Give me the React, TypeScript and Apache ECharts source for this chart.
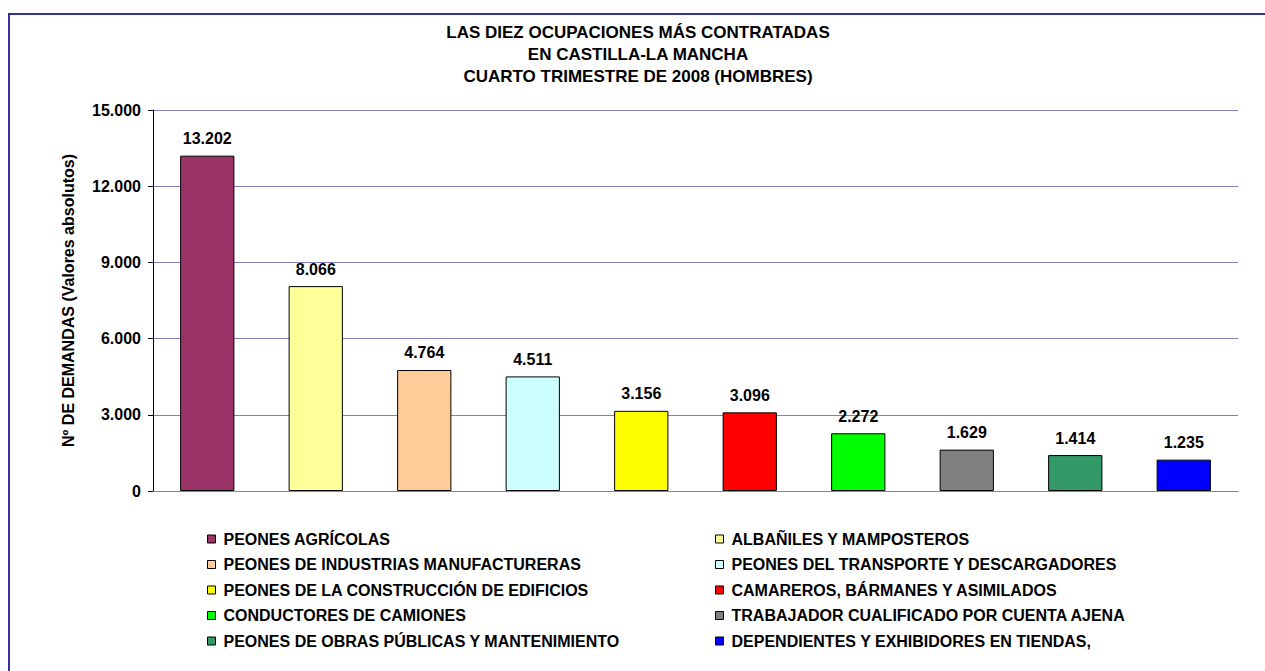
import React, { useEffect, useRef } from "react";
import * as echarts from "echarts";

const titleLines = [
  "LAS DIEZ OCUPACIONES MÁS CONTRATADAS",
  "EN CASTILLA-LA MANCHA",
  "CUARTO TRIMESTRE DE 2008 (HOMBRES)",
];
const categories = [
  "PEONES AGRÍCOLAS",
  "ALBAÑILES Y MAMPOSTEROS",
  "PEONES DE INDUSTRIAS MANUFACTURERAS",
  "PEONES DEL TRANSPORTE Y DESCARGADORES",
  "PEONES DE LA CONSTRUCCIÓN DE EDIFICIOS",
  "CAMAREROS, BÁRMANES Y ASIMILADOS",
  "CONDUCTORES DE CAMIONES",
  "TRABAJADOR CUALIFICADO POR CUENTA AJENA",
  "PEONES DE OBRAS PÚBLICAS Y MANTENIMIENTO",
  "DEPENDIENTES Y EXHIBIDORES EN TIENDAS,",
];
const values = [13202, 8066, 4764, 4511, 3156, 3096, 2272, 1629, 1414, 1235];
const colors = [
  "#993366", "#FFFF99", "#FFCC99", "#CCFFFF", "#FFFF00",
  "#FF0000", "#00FF00", "#808080", "#339966", "#0000FF",
];
const yAxisName = "Nº DE DEMANDAS (Valores absolutos)";
const yMin = 0;
const yMax = 15000;
const yInterval = 3000;

const FONT = "'Liberation Sans', Arial, sans-serif";
const fmt = (v: number) => String(v).replace(/\B(?=(\d{3})+(?!\d))/g, ".");

export default function App() {
  const ref = useRef<HTMLDivElement>(null);
  useEffect(() => {
    if (!ref.current) return;
    const chart = echarts.init(ref.current, undefined, { renderer: "svg" });
    const legendStyle = {
      orient: "vertical" as const,
      top: 531,
      padding: 0,
      itemWidth: 8,
      itemHeight: 8,
      itemGap: 9.5,
      icon: "rect",
      itemStyle: { borderColor: "#000", borderWidth: 1 },
      textStyle: { fontFamily: FONT, fontSize: 16, fontWeight: "bold" as const, color: "#000", lineHeight: 16, padding: [0, 0, 0, 3] },
    };
    chart.setOption({
      animation: false,
      backgroundColor: "#fff",
      graphic: [
        {
          type: "rect",
          shape: { x: 9, y: 14, width: 1400, height: 800 },
          style: { fill: "none", stroke: "#333399", lineWidth: 2 },
          silent: true,
        },
        {
          type: "text",
          x: 638,
          y: 21,
          style: {
            text: titleLines.join("\n"),
            font: `bold 17px ${FONT}`,
            fill: "#000",
            textAlign: "center",
            lineHeight: 22,
          },
        },
      ],
      grid: { left: 153, right: 27, top: 110, bottom: 180 },
      legend: [
        { ...legendStyle, left: 207, data: categories.filter((_, i) => i % 2 === 0) },
        { ...legendStyle, left: 715, data: categories.filter((_, i) => i % 2 === 1) },
      ],
      xAxis: {
        type: "category",
        data: categories,
        axisLine: { lineStyle: { color: "#8080C0", width: 1 } },
        axisTick: { show: false },
        axisLabel: { show: false },
      },
      yAxis: {
        type: "value",
        min: yMin,
        max: yMax,
        interval: yInterval,
        name: yAxisName,
        nameLocation: "middle",
        nameGap: 77,
        nameTextStyle: { fontFamily: FONT, fontSize: 16, fontWeight: "bold", color: "#000" },
        axisLine: { show: true, lineStyle: { color: "#000", width: 1 } },
        axisTick: { show: true, length: 5, lineStyle: { color: "#000" } },
        axisLabel: {
          margin: 12,
          fontFamily: FONT,
          fontSize: 16,
          fontWeight: "bold",
          color: "#000",
          formatter: (v: number) => fmt(v),
        },
        splitLine: { lineStyle: { color: "#8080C0", width: 1 } },
      },
      series: categories.map((name, i) => ({
        type: "bar",
        name,
        stack: "total",
        barWidth: "50%",
        data: values.map((v, j) => (j === i ? v : "-")),
        itemStyle: { color: colors[i], borderColor: "#000", borderWidth: 1 },
        label: {
          show: true,
          position: "top",
          distance: 9,
          fontFamily: FONT,
          fontSize: 16,
          fontWeight: "bold",
          color: "#000",
          formatter: (p: any) => fmt(p.value),
        },
      })),
    });
    return () => chart.dispose();
  }, []);
  return <div ref={ref} style={{ position: "fixed", left: 0, top: 0, width: 1265, height: 671 }} />;
}
